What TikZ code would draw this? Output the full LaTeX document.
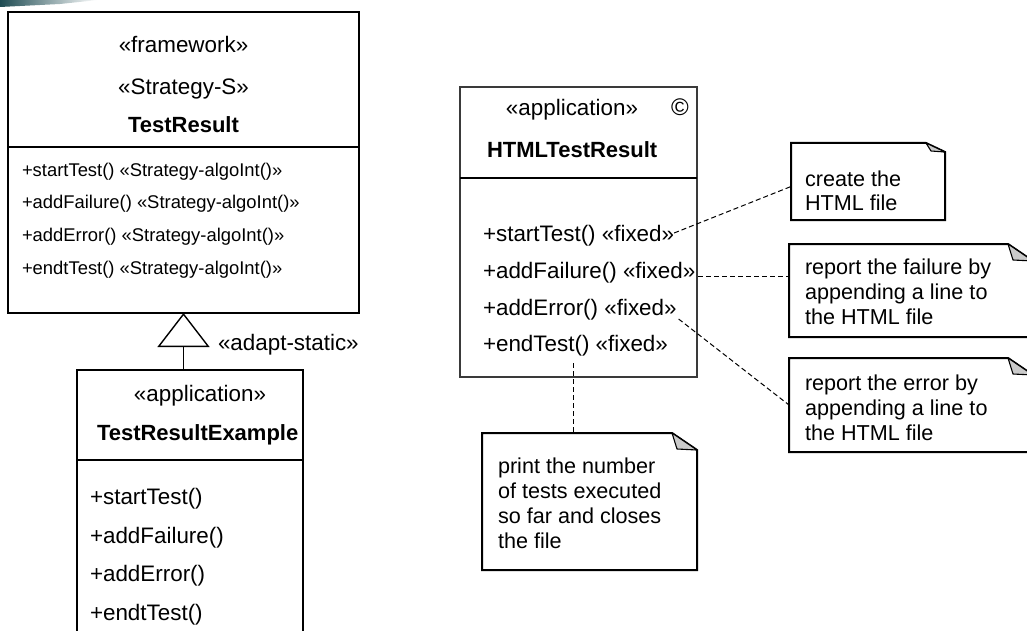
\documentclass[tikz,border=0pt]{standalone}
\usepackage{fontspec}
\setmainfont{Liberation Sans}
\usetikzlibrary{arrows.meta,calc}
\definecolor{tealdark}{HTML}{1E4B52}
\definecolor{foldgray}{HTML}{CACACA}
\definecolor{boxgray}{HTML}{3A3A3A}
\newcommand\drawnote[3]{%
  \draw[noteline] (#1.north west) -- ([xshift=-#2]#1.north east) -- ([yshift=-#3]#1.north east) -- (#1.south east) -- (#1.south west) -- cycle;
  \filldraw[fold] ([xshift=-#2]#1.north east) -- ([xshift=-#2+5pt,yshift=-#3+1pt]#1.north east) -- ([yshift=-#3]#1.north east) -- cycle;}
\begin{document}
\begin{tikzpicture}[x=1pt,y=-1pt,
  every node/.style={inner sep=0pt, outer sep=0pt, font=\fontsize{22.4}{25}\selectfont},
  txt/.style={anchor=base west},
  ntxt/.style={anchor=base west, font=\fontsize{21.6}{25}\selectfont},
  ctxt/.style={anchor=base},
  small/.style={anchor=base west, font=\fontsize{18.4}{20}\selectfont},
  classbox/.style={draw=black, line width=1.4pt, rectangle},
  classboxg/.style={draw=boxgray, line width=1.4pt, rectangle},
  notebox/.style={draw=none, rectangle},
  noteline/.style={draw=black, line width=2pt, line join=miter},
  fold/.style={fill=foldgray, draw=black, line width=1.1pt, line join=round},
  link/.style={line width=1pt, dash pattern=on 5pt off 3pt},
  divider/.style={line width=2pt}]
\useasboundingbox (0,0) rectangle (1027,631);
\clip (0,0) rectangle (1027,631);

% decorative corner band
\shade[left color=tealdark, right color=white] (0,0) -- (98,0) -- (60,4) -- (0,7) -- cycle;

% ---- TestResult
\node[classbox, minimum width=351pt, minimum height=301pt] (tr) at (183.5,162.5) {};
\draw[divider] (tr.west |- 0,147) -- (tr.east |- 0,147);
\node[ctxt] (trs1) at (183.5,53) {«framework»};
\node[ctxt] (trs2) at (183.5,95) {«Strategy-S»};
\node[ctxt,font=\fontsize{22}{25}\selectfont\bfseries] (trn) at (183.5,133) {TestResult};
\node[small] (trm1) at (22,176.5) {+startTest() «Strategy-algoInt()»};
\node[small] (trm2) at (22,208.5) {+addFailure() «Strategy-algoInt()»};
\node[small] (trm3) at (22,241.5) {+addError() «Strategy-algoInt()»};
\node[small] (trm4) at (22,274.5) {+endtTest() «Strategy-algoInt()»};

% ---- TestResultExample
\node[classbox, minimum width=226pt, minimum height=300pt] (tre) at (190,520) {};
\draw[divider] (tre.west |- 0,460) -- (tre.east |- 0,460);
\node[ctxt] (tres1) at (200,401) {«application»};
\node[txt,font=\fontsize{22}{25}\selectfont\bfseries] (tren) at (97,440) {TestResultExample};
\node[txt] (trem1) at (90,504) {+startTest()};
\node[txt] (trem2) at (90,543) {+addFailure()};
\node[txt] (trem3) at (90,581) {+addError()};
\node[txt] (trem4) at (90,620) {+endtTest()};

% generalization
\draw[line width=1.4pt, -{Triangle[open,length=34pt,width=52pt,line width=1.4pt]}] (tr.south |- tre.north) -- (tr.south);
\node[txt] (adapt) at (218,350) {«adapt-static»};

% ---- HTMLTestResult
\node[classboxg, minimum width=237pt, minimum height=290pt] (htr) at (578.5,232) {};
\draw[divider] (htr.west |- 0,178) -- (htr.east |- 0,178);
\node[ctxt] (htrs) at (572,116) {«application»};
\node[ctxt,font=\fontsize{24}{25}\selectfont] (copy) at (680,116) {©};
\node[txt,font=\fontsize{22}{25}\selectfont\bfseries] (htrn) at (487,158) {HTMLTestResult};
\node[txt] (h1) at (483,241) {+startTest() «fixed»};
\node[txt] (h2) at (483,278) {+addFailure() «fixed»};
\node[txt] (h3) at (483,315) {+addError() «fixed»};
\node[txt] (h4) at (483,351) {+endTest() «fixed»};

% ---- notes
\node[notebox, minimum width=154pt, minimum height=77pt] (n1) at (868,181.5) {};
\drawnote{n1}{19pt}{9pt}
\node[ntxt] at (805,186) {create the};
\node[ntxt] at (805,210) {HTML file};

\node[notebox, minimum width=244pt, minimum height=93pt] (n2) at (911,290.5) {};
\drawnote{n2}{25pt}{17pt}
\node[ntxt] at (805,274) {report the failure by};
\node[ntxt] at (805,299) {appending a line to};
\node[ntxt] at (805,324) {the HTML file};

\node[notebox, minimum width=244pt, minimum height=94pt] (n3) at (911,405) {};
\drawnote{n3}{25pt}{17pt}
\node[ntxt] at (805,390) {report the error by};
\node[ntxt] at (805,415) {appending a line to};
\node[ntxt] at (805,440) {the HTML file};

\node[notebox, minimum width=215pt, minimum height=137pt] (n4) at (589.5,501.5) {};
\drawnote{n4}{25pt}{17pt}
\node[ntxt] at (498,473) {print the number};
\node[ntxt] at (498,498) {of tests executed};
\node[ntxt] at (498,523) {so far and closes};
\node[ntxt] at (498,548) {the file};

% ---- connectors
\coordinate (c1s) at ([yshift=8pt]h1.base east);
\coordinate (c2s) at ([xshift=3pt,yshift=2pt]h2.base east);
\coordinate (c3s) at ([xshift=2pt,yshift=-4pt]h3.base east);
\coordinate (c4s) at (573,363);
\draw[link] (c1s) -- ([yshift=-5pt]n1.west);
\draw[link] (c2s) -- (c2s -| n2.west);
\draw[link] (c3s) -- (n3.west);
\draw[link] (c4s) -- (c4s |- n4.north);
\end{tikzpicture}
\end{document}
